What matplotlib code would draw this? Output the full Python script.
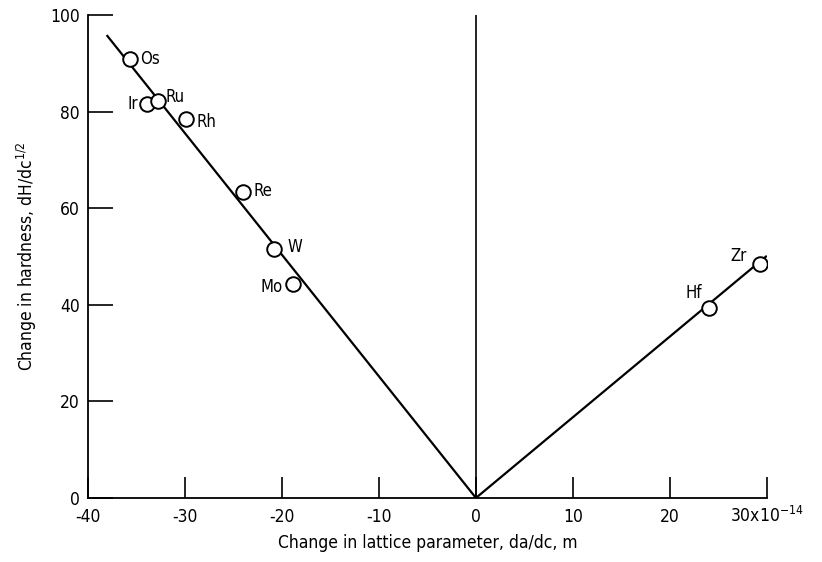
import matplotlib

matplotlib.use("Agg")
import matplotlib.pyplot as plt  # noqa: E402

plt.rcParams["font.family"] = ["DejaVu Sans"]
plt.rcParams["font.stretch"] = "condensed"
plt.rcParams["mathtext.fontset"] = "dejavusans"

# element data
elements = ["Os", "Ir", "Ru", "Rh", "Re", "W", "Mo", "Hf", "Zr"]
dadc = [-35.7, -33.9, -32.8, -29.9, -24.0, -20.8, -18.9, 24.0, 29.3]
dhdc = [90.9, 81.5, 82.2, 78.4, 63.4, 51.5, 44.4, 39.4, 48.4]
label_x = [-34.6, -34.8, -32.0, -28.8, -22.9, -19.4, -19.9, 21.6, 26.2]
label_y = [91.0, 81.6, 83.0, 77.8, 63.6, 52.0, 43.7, 42.4, 50.1]
label_ha = ["left", "right", "left", "left", "left", "left", "right", "left", "left"]

# fitted lines
left_line_x = [-38.0, 0.0]
left_line_y = [95.7, 0.0]
right_line_x = [0.0, 29.9]
right_line_y = [0.0, 50.0]

x_ticks = [-40, -30, -20, -10, 0, 10, 20, 30]
x_ticklabels = ["-40", "-30", "-20", "-10", "0", "10", "20", "30x10$^{-14}$"]
y_ticks = [0, 20, 40, 60, 80, 100]

fig = plt.figure(figsize=(8.22, 5.62), dpi=100)
ax = fig.add_axes([0.107, 0.114, 0.826, 0.859])

ax.plot(left_line_x, left_line_y, color="black", lw=1.6, zorder=2)
ax.plot(right_line_x, right_line_y, color="black", lw=1.6, zorder=2)
ax.plot([0, 0], [0, 100], color="black", lw=1.2, zorder=1)
ax.plot(dadc, dhdc, "o", ms=10.5, mfc="white", mec="black", mew=1.4, zorder=3)

for name, lx, ly, ha in zip(elements, label_x, label_y, label_ha):
    ax.text(lx, ly, name, ha=ha, va="center", fontsize=12)

ax.set_xlim(-40, 30)
ax.set_ylim(0, 100)
ax.spines["top"].set_visible(False)
ax.spines["right"].set_visible(False)
ax.spines["left"].set_linewidth(1.3)
ax.spines["bottom"].set_linewidth(1.3)

ax.set_xticks(x_ticks)
ax.set_xticklabels(x_ticklabels)
ax.set_yticks(y_ticks)
ax.tick_params(axis="x", direction="in", length=15, width=1.2, labelsize=12.5, pad=17)
ax.tick_params(axis="y", direction="in", length=18, width=1.2, labelsize=12.5, pad=6)
for lab in ax.get_xticklabels():
    lab.set_verticalalignment("baseline")
for lab in ax.get_yticklabels():
    lab.set_verticalalignment("center_baseline")

ax.set_xlabel("Change in lattice parameter, da/dc, m", fontsize=12.5, labelpad=6)
ax.set_ylabel("Change in hardness, dH/dc$^{1/2}$", fontsize=12.5, labelpad=8)

fig.savefig("out.png", dpi=100)
